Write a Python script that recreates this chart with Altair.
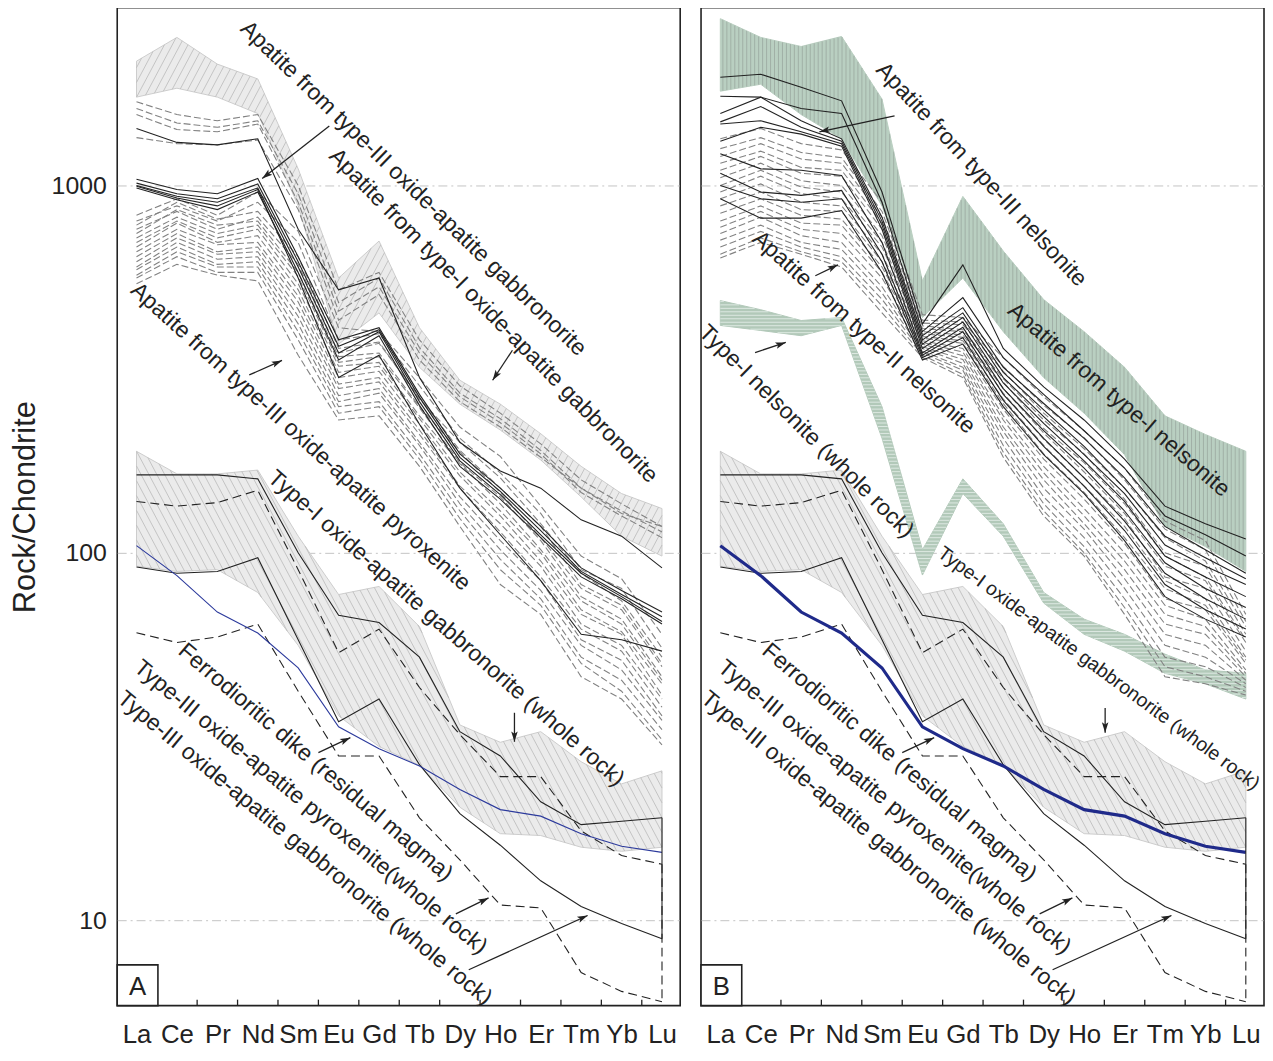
import math
import altair as alt
import pandas as pd

ELEMENTS = ["La", "Ce", "Pr", "Nd", "Sm", "Eu", "Gd", "Tb", "Dy", "Ho", "Er", "Tm", "Yb", "Lu"]

# ---------------- Panel A : apatite ----------------
# envelope: apatite from type-I oxide-apatite gabbronorite
AP_T1_GABBRO_TOP = [2180, 2530, 2140, 1950, 1110, 560, 706, 410, 295, 254, 211, 172, 145, 132]
AP_T1_GABBRO_BOT = [1740, 1840, 1740, 1570, 880, 370, 450, 320, 254, 216, 179, 142, 111, 98]
AP_T1_GABBRO_LINES = [
    [1690, 1560, 1500, 1560, 1000, 520, 580, 380, 285, 240, 198, 158, 136, 118],
    [1620, 1480, 1440, 1500, 950, 480, 560, 362, 272, 232, 190, 150, 130, 114],
    [1560, 1420, 1400, 1470, 900, 455, 530, 350, 266, 226, 186, 146, 126, 110],
    [1350, 1300, 1290, 1330, 860, 430, 505, 335, 258, 220, 182, 150, 128, 118],
]
# apatite from type-III oxide-apatite gabbronorite (black)
AP_T3_GABBRO = [
    [1430, 1310, 1290, 1340, 760, 520, 560, 300, 200, 167, 150, 123, 111, 91],
    [1040, 975, 950, 1045, 640, 380, 410, 270, 186, 150, 118, 91, 79, 69],
    [1015, 950, 920, 1010, 620, 365, 405, 265, 182, 147, 115, 89, 77, 67],
    [1000, 935, 900, 985, 600, 350, 400, 258, 178, 144, 112, 88, 76, 65],
    [985, 915, 860, 960, 580, 335, 390, 252, 172, 140, 110, 86, 75, 64],
    [995, 925, 880, 975, 560, 300, 345, 224, 150, 112, 84, 60, 58, 54],
]
# apatite from type-III oxide-apatite pyroxenite (grey dashed)
AP_T3_PYX = [
    [830, 920, 830, 960, 750, 410, 400, 300, 220, 183, 134, 98, 85, 60],
    [800, 880, 800, 900, 700, 380, 395, 285, 205, 165, 128, 90, 80, 55],
    [780, 900, 810, 850, 640, 360, 375, 262, 200, 160, 120, 88, 74, 52],
    [760, 850, 760, 820, 610, 350, 372, 265, 190, 150, 118, 82, 72, 50],
    [740, 860, 780, 800, 580, 342, 350, 250, 188, 146, 110, 80, 70, 49],
    [720, 820, 740, 780, 565, 330, 342, 248, 176, 142, 108, 76, 66, 46],
    [700, 800, 720, 760, 540, 322, 330, 236, 175, 136, 102, 74, 64, 45],
    [680, 790, 700, 730, 520, 310, 322, 232, 166, 130, 100, 70, 61, 44],
    [660, 760, 690, 700, 500, 300, 312, 224, 162, 126, 95, 68, 60, 41],
    [640, 740, 660, 680, 482, 288, 300, 216, 152, 120, 92, 64, 56, 40],
    [620, 720, 650, 660, 460, 280, 292, 210, 150, 114, 86, 62, 54, 38],
    [600, 700, 630, 640, 440, 268, 280, 200, 142, 108, 84, 58, 51, 36],
    [590, 680, 610, 620, 420, 258, 272, 196, 136, 102, 79, 56, 48, 35],
    [570, 660, 600, 600, 400, 250, 258, 186, 130, 96, 75, 52, 45, 33],
    [560, 640, 580, 580, 380, 240, 250, 180, 124, 90, 72, 50, 42, 31],
    [540, 610, 570, 550, 345, 230, 236, 172, 118, 82, 68, 46, 40, 30],
]

# ---------------- whole rock (both panels) ----------------
WR_T1_GABBRO_TOP = [189, 164, 164, 168, 111, 77, 81, 63, 34, 30.5, 32.6, 27, 23.5, 25.5]
WR_T1_GABBRO_BOT = [92, 89, 90, 78, 56, 36, 29.7, 26.4, 20.3, 17.2, 17, 15.8, 15.4, 15.8]
WR_T3_GABBRO = [
    [163, 163, 163, 159, 100, 67.6, 64.6, 52, 32.6, 28, 21, 18.2, 18.6, 19],
    [91.5, 88, 89, 97, 58, 34.7, 40, 26.5, 19.5, 16, 12.8, 10.9, 9.8, 8.9],
]
WR_T3_PYX = [
    [138, 134, 137, 148, 90, 53.5, 62, 43, 32, 24.6, 24.6, 17.5, 15, 14.2],
    [60.6, 57, 59, 64, 42, 28, 28, 19, 14.6, 11, 10.8, 7.2, 6.4, 6.0],
]
FERRODIORITE_DIKE = [104.6, 86.7, 69, 60.5, 48.6, 33.6, 29.3, 26.3, 22.7, 20, 19.2, 17.2, 15.9, 15.3]

# ---------------- Panel B : nelsonite ----------------
AP_T1_NELS_TOP = [2845, 2530, 2390, 2545, 1718, 550, 934, 663, 489, 400, 320, 236, 210, 189]
AP_T1_NELS_BOT = [1806, 1886, 1560, 1340, 880, 437, 560, 400, 300, 240, 185, 118, 104, 89]
AP_T3_NELS = [
    [1970, 2008, 1850, 1700, 960, 420, 608, 360, 283, 230, 180, 134, 120, 109],
    [1750, 1740, 1620, 1570, 900, 400, 495, 340, 270, 215, 170, 126, 112, 98],
    [1570, 1740, 1500, 1340, 820, 390, 465, 320, 255, 205, 160, 118, 102, 88],
    [1490, 1640, 1440, 1320, 800, 380, 450, 310, 245, 195, 150, 111, 97, 85],
    [1470, 1500, 1400, 1300, 780, 370, 437, 300, 235, 185, 145, 105, 92, 82],
    [1320, 1440, 1380, 1280, 760, 360, 425, 290, 225, 178, 138, 98, 86, 76],
    [1220, 1110, 1100, 1065, 700, 350, 411, 280, 215, 170, 130, 94, 80, 71],
    [1080, 960, 940, 970, 650, 345, 400, 270, 205, 160, 122, 88, 75, 66],
    [1000, 920, 900, 920, 620, 340, 385, 260, 195, 152, 115, 82, 70, 62],
    [920, 815, 815, 855, 580, 335, 370, 250, 185, 145, 108, 76, 66, 59],
]
AP_T2_NELS = [
    [1340, 1430, 1300, 1250, 900, 445, 437, 340, 266, 215, 170, 122, 108, 68],
    [1260, 1350, 1230, 1190, 850, 430, 425, 322, 252, 206, 158, 116, 102, 65],
    [1200, 1300, 1180, 1150, 820, 422, 418, 312, 240, 192, 150, 110, 95, 63],
    [1150, 1240, 1120, 1100, 790, 415, 405, 298, 230, 186, 140, 100, 92, 60],
    [1100, 1200, 1080, 1060, 760, 408, 400, 292, 218, 176, 136, 98, 86, 58],
    [1050, 1150, 1030, 1000, 730, 400, 392, 280, 212, 166, 128, 92, 84, 57],
    [1000, 1100, 990, 960, 700, 395, 386, 272, 204, 160, 124, 86, 80, 54],
    [960, 1060, 950, 920, 680, 388, 378, 262, 196, 152, 118, 84, 75, 52],
    [920, 1010, 900, 880, 650, 384, 372, 255, 186, 146, 110, 80, 72, 51],
    [880, 960, 860, 850, 620, 378, 360, 246, 180, 140, 106, 75, 70, 50],
    [840, 920, 830, 810, 600, 374, 352, 236, 172, 132, 100, 72, 66, 48],
    [800, 880, 790, 780, 580, 370, 344, 230, 165, 126, 95, 68, 63, 47],
    [770, 850, 760, 740, 560, 364, 336, 220, 158, 120, 90, 64, 60, 46],
    [740, 820, 730, 700, 530, 360, 328, 214, 150, 116, 85, 60, 56, 45],
    [710, 780, 700, 670, 510, 354, 320, 205, 142, 110, 80, 56, 52, 44],
    [680, 750, 680, 640, 490, 350, 314, 196, 136, 104, 75, 52, 49, 43],
    [650, 720, 660, 620, 470, 345, 306, 188, 130, 100, 71, 49, 46, 42],
    [635, 700, 650, 600, 450, 340, 300, 182, 126, 98, 68, 46, 44, 41],
]
WR_T1_NELS_TOP = [486, 459, 429, 437, 250, 102, 159, 120, 78, 66, 60, 53, 48, 47]
WR_T1_NELS_BOT = [416, 403, 390, 416, 205, 87, 145, 111, 73, 60, 54, 47, 44, 40]

# ---------------- annotations (element index, Rock/Chondrite value) ----------------
LABELS_A = [
    ("Apatite from type-III oxide-apatite gabbronorite", 6.85, 981, 44.0, 23),
    ("Apatite from type-I oxide-apatite gabbronorite", 8.83, 442, 45.5, 23),
    ("Apatite from type-III oxide-apatite pyroxenite", 4.06, 207, 42.0, 23),
    ("Type-I oxide-apatite gabbronorite (whole rock)", 7.66, 62.3, 41.3, 23),
    ("Ferrodioritic dike (residual magma)", 4.43, 26.9, 40.5, 23),
    ("Type-III oxide-apatite pyroxenite(whole rock)", 4.31, 20.3, 39.4, 23),
    ("Type-III oxide-apatite gabbronorite (whole rock)", 4.16, 15.7, 39.6, 23),
]
LABELS_B = [
    ("Apatite from type-III nelsonite", 6.46, 1071, 47.0, 23),
    ("Apatite from type-I nelsonite", 9.86, 261, 40.7, 23),
    ("Apatite from type-II nelsonite", 3.55, 398, 42.0, 23),
    ("Type-I nelsonite (whole rock)", 2.13, 214, 44.7, 23),
    ("Type-I oxide-apatite gabbronorite (whole rock)", 9.36, 48.5, 36.5, 19.5),
    ("Ferrodioritic dike (residual magma)", 4.43, 26.9, 40.5, 23),
    ("Type-III oxide-apatite pyroxenite(whole rock)", 4.31, 20.3, 39.4, 23),
    ("Type-III oxide-apatite gabbronorite (whole rock)", 4.16, 15.7, 39.6, 23),
]
# arrows: tail (x, value) -> head (x, value)
ARROWS_A = [
    (4.77, 1452, 3.11, 1045),
    (9.30, 356, 8.81, 295),
    (2.79, 305, 3.60, 334),
    (9.35, 36.7, 9.35, 30.6),
    (4.50, 28.6, 5.29, 31.4),
    (7.90, 10.4, 8.71, 11.5),
    (8.22, 7.33, 11.16, 10.3),
]
ARROWS_B = [
    (4.31, 1546, 2.45, 1400),
    (2.35, 568, 2.91, 608),
    (0.86, 351, 1.62, 374),
    (9.52, 37.8, 9.52, 32.4),
    (4.50, 28.6, 5.29, 31.4),
    (7.90, 10.4, 8.71, 11.5),
    (8.22, 7.33, 11.16, 10.3),
]

# ---------------- layout ----------------
W, H = 567, 1005
XMIN, XMAX = -0.477, 13.45
YMIN, YMAX = 5.855, 3047
FONT = "Liberation Sans"
INK = "#222222"
DASH_GREY = "#828282"
LMAX, LMIN = math.log10(YMAX), math.log10(YMIN)

xs = alt.Scale(domain=[XMIN, XMAX], nice=False, zero=False)
ys = alt.Scale(type="log", domain=[YMIN, YMAX], nice=False)


def px(x):
    return (x - XMIN) / (XMAX - XMIN) * W


def py(v):
    return (LMAX - math.log10(v)) / (LMAX - LMIN) * H


def inv_px(p):
    return XMIN + p / W * (XMAX - XMIN)


def inv_py(p):
    return 10 ** (LMAX - p / H * (LMAX - LMIN))


def lines_df(lines, prefix):
    rows = []
    for k, vals in enumerate(lines):
        for i, v in enumerate(vals):
            rows.append({"x": i, "v": v, "sid": f"{prefix}{k}"})
    return pd.DataFrame(rows)


def band_df(top, bot):
    return pd.DataFrame({"x": list(range(len(top))), "top": top, "bot": bot})


def hatch_df(top, bot, angle, spacing):
    """Clip a family of parallel lines (pixel space) to the envelope polygon."""
    poly = [(px(i), py(v)) for i, v in enumerate(top)] + \
           [(px(i), py(v)) for i, v in reversed(list(enumerate(bot)))]
    a = math.radians(angle)
    d = (math.cos(a), math.sin(a))
    n = (-d[1], d[0])
    proj = [n[0] * p[0] + n[1] * p[1] for p in poly]
    c = math.floor(min(proj) / spacing) * spacing + spacing / 2
    rows = []
    m = len(poly)
    while c < max(proj):
        ts = []
        for k in range(m):
            p, q = poly[k], poly[(k + 1) % m]
            sp = n[0] * p[0] + n[1] * p[1] - c
            sq = n[0] * q[0] + n[1] * q[1] - c
            if (sp < 0) != (sq < 0):
                f = sp / (sp - sq)
                ix, iy = p[0] + f * (q[0] - p[0]), p[1] + f * (q[1] - p[1])
                ts.append((d[0] * ix + d[1] * iy, ix, iy))
        ts.sort()
        for j in range(0, len(ts) - 1, 2):
            _, x1, y1 = ts[j]
            _, x2, y2 = ts[j + 1]
            rows.append({"x": inv_px(x1), "v": inv_py(y1), "x2": inv_px(x2), "v2": inv_py(y2)})
        c += spacing
    return pd.DataFrame(rows)


label_expr = "[" + ",".join(f"'{e}'" for e in ELEMENTS) + "][datum.value]"
x_axis = alt.Axis(values=list(range(len(ELEMENTS))), labelExpr=label_expr, grid=False, ticks=False,
                  domain=False, labelFontSize=26, labelPadding=16, labelFlush=False, labelOverlap=False,
                  labelColor=INK, labelFont=FONT, title=None)


def y_axis(show):
    common = dict(values=[10, 100, 1000], grid=True, gridColor="#c4c4c4", gridDash=[9, 4, 2, 4],
                  gridWidth=1, ticks=False, domain=False)
    if show:
        return alt.Axis(format="d", labelFontSize=25, labelPadding=11, labelColor=INK, labelFont=FONT,
                        title="Rock/Chondrite", titleFontSize=31, titleFont=FONT, titleFontWeight="normal",
                        titleColor=INK, titlePadding=10, **common)
    return alt.Axis(labels=False, title=None, **common)


def X(f="x", axis=None):
    if axis is None:
        return alt.X(f"{f}:Q", scale=xs)
    return alt.X(f"{f}:Q", scale=xs, axis=axis)


def Y(f="v", axis=None):
    if axis is None:
        return alt.Y(f"{f}:Q", scale=ys)
    return alt.Y(f"{f}:Q", scale=ys, axis=axis)


def band(top, bot, fill, stroke, hatch, axes=None):
    xa, ya = (axes if axes else (None, None))
    area = alt.Chart(band_df(top, bot)).mark_area(fill=fill, stroke=stroke, strokeWidth=1,
                                                   interpolate="linear").encode(
        x=X(axis=xa), y=Y("top", axis=ya), y2=alt.Y2("bot"))
    angle, spacing, color, width = hatch
    h = alt.Chart(hatch_df(top, bot, angle, spacing)).mark_rule(color=color, strokeWidth=width).encode(
        x=X(), y=Y(), x2=alt.X2("x2"), y2=alt.Y2("v2"))
    return [area, h]


def lines(data, prefix, color, width, dash=None):
    kw = dict(color=color, strokeWidth=width, interpolate="linear")
    if dash:
        kw["strokeDash"] = dash
    return alt.Chart(lines_df(data, prefix)).mark_line(**kw).encode(x=X(), y=Y(), detail="sid:N")


def annotations(labels):
    df = pd.DataFrame(labels, columns=["text", "x", "v", "ang", "fs"])
    return alt.Chart(df).mark_text(font=FONT, color=INK, align="center", baseline="middle").encode(
        x=X(), y=Y(), text="text:N", angle=alt.Angle("ang:Q", scale=None), size=alt.Size("fs:Q", scale=None))


HEAD = "M0,0 L-0.36,1.15 L0,0.9 L0.36,1.15 Z"


def arrows(arrs):
    rows = []
    for (x1, v1, x2, v2) in arrs:
        dx, dy = px(x2) - px(x1), py(v2) - py(v1)
        ang = math.degrees(math.atan2(dx, -dy)) % 360
        rows.append({"x": x1, "v": v1, "x2": x2, "v2": v2, "ang": ang})
    df = pd.DataFrame(rows)
    shaft = alt.Chart(df).mark_rule(color=INK, strokeWidth=1.3).encode(
        x=X(), y=Y(), x2=alt.X2("x2"), y2=alt.Y2("v2"))
    head = alt.Chart(df).mark_point(shape=HEAD, filled=True, color=INK, opacity=1, size=330, strokeWidth=0).encode(
        x=X("x2"), y=Y("v2"), angle=alt.Angle("ang:Q", scale=None))
    return [shaft, head]


def lu_closures():
    df = pd.DataFrame({
        "x": [len(ELEMENTS) - 1] * 2,
        "v": [WR_T3_GABBRO[0][-1], WR_T3_PYX[0][-1]],
        "v2": [WR_T3_GABBRO[1][-1], WR_T3_PYX[1][-1]],
        "kind": ["solid", "dashed"],
    })
    solid = alt.Chart(df[df.kind == "solid"]).mark_rule(color=INK, strokeWidth=1.1).encode(
        x=X(), y=Y(), y2=alt.Y2("v2"))
    dashed = alt.Chart(df[df.kind == "dashed"]).mark_rule(color=INK, strokeWidth=1.1, strokeDash=[9, 5]).encode(
        x=X(), y=Y(), y2=alt.Y2("v2"))
    return [solid, dashed]


def decorations(letter):
    ticks = pd.DataFrame({"t": [i + 0.5 for i in range(1, len(ELEMENTS) - 1)]})
    tick_layer = alt.Chart(ticks).mark_rule(color=INK, strokeWidth=1.3).encode(
        x=X("t"), y=alt.value(H - 6), y2=alt.value(H))
    lab = pd.DataFrame({"lab": [letter]})
    box = alt.Chart(lab).mark_rect(fill="white", stroke=INK, strokeWidth=1.6).encode(
        x=alt.value(0), x2=alt.value(41), y=alt.value(H - 41), y2=alt.value(H))
    txt = alt.Chart(lab).mark_text(font=FONT, fontSize=26, color=INK, align="center", baseline="middle").encode(
        x=alt.value(20.5), y=alt.value(H - 19), text="lab:N")
    return [tick_layer, box, txt]


def whole_rock_layers(blue_width, blue_color):
    return [
        lines(WR_T3_GABBRO, "wg", INK, 1.1),
        lines(WR_T3_PYX, "wp", INK, 1.1, [9, 5]),
        alt.Chart(pd.DataFrame({"x": list(range(len(ELEMENTS))), "v": FERRODIORITE_DIKE})).mark_line(
            color=blue_color, strokeWidth=blue_width).encode(x=X(), y=Y()),
    ] + lu_closures()


GRAY_FILL, GRAY_STROKE = "#ebebeb", "#cdcdcd"
GRAY_HATCH_UP = (-62, 7, "#b9b9b9", 0.8)
GRAY_HATCH_DOWN = (62, 7, "#b9b9b9", 0.8)
GREEN_VERTICAL = (90, 4, "#9aa89f", 0.8)
GREEN_HORIZONTAL = (0, 3.5, "#e2ece6", 0.9)

panel_a = alt.layer(
    *band(AP_T1_GABBRO_TOP, AP_T1_GABBRO_BOT, GRAY_FILL, GRAY_STROKE, GRAY_HATCH_UP,
          axes=(x_axis, y_axis(True))),
    *band(WR_T1_GABBRO_TOP, WR_T1_GABBRO_BOT, GRAY_FILL, GRAY_STROKE, GRAY_HATCH_DOWN),
    lines(AP_T1_GABBRO_LINES, "g1", DASH_GREY, 1.1, [7, 3]),
    lines(AP_T3_PYX, "p3", DASH_GREY, 1.1, [7, 3]),
    lines(AP_T3_GABBRO, "g3", INK, 1.1),
    *whole_rock_layers(1.1, "#2c3a9c"),
    annotations(LABELS_A),
    *arrows(ARROWS_A),
    *decorations("A"),
).properties(width=W, height=H)

panel_b = alt.layer(
    *band(AP_T1_NELS_TOP, AP_T1_NELS_BOT, "#b9cfc1", "#b9cfc1", GREEN_VERTICAL,
          axes=(x_axis, y_axis(False))),
    *band(WR_T1_NELS_TOP, WR_T1_NELS_BOT, "#b2c9b9", "#b2c9b9", GREEN_HORIZONTAL),
    *band(WR_T1_GABBRO_TOP, WR_T1_GABBRO_BOT, GRAY_FILL, GRAY_STROKE, GRAY_HATCH_DOWN),
    lines(AP_T2_NELS, "n2", DASH_GREY, 1.1, [7, 3]),
    lines(AP_T3_NELS, "n3", INK, 1.1),
    *whole_rock_layers(3.2, "#1f2a8a"),
    annotations(LABELS_B),
    *arrows(ARROWS_B),
    *decorations("B"),
).properties(width=W, height=H)

PAD = {"left": 0, "top": -5, "right": 0, "bottom": 0}
chart = alt.hconcat(panel_a, panel_b, spacing=12, padding=PAD).configure_view(
    stroke=INK, strokeWidth=1.6)

chart.save("out.html", embed_options={"renderer": "svg", "actions": False})
